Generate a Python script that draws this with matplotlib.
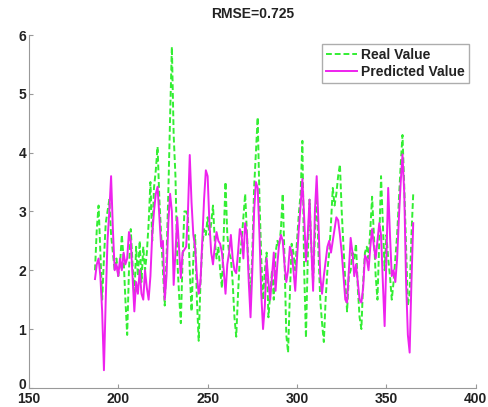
import numpy as np
import matplotlib
matplotlib.use('Agg')
import matplotlib.pyplot as plt
from matplotlib.transforms import ScaledTranslation

# day index shared by both series
days = np.arange(187, 366)

real_value = [
    2.0, 2.7, 3.1, 2.3, 1.5, 2.2, 2.8, 3.0, 3.2, 2.6,
    2.3, 2.0, 2.2, 1.9, 2.1, 2.6, 2.2, 1.5, 0.9, 2.0,
    2.7, 2.1, 1.5, 2.4, 1.9, 2.5, 1.8, 2.4, 2.0, 2.3,
    2.8, 3.5, 2.5, 3.4, 3.7, 4.1, 3.2, 2.6, 2.0, 1.4,
    2.2, 3.3, 4.6, 5.8, 4.3, 3.6, 2.2, 1.6, 1.1, 2.2,
    3.0, 3.0, 2.9, 2.0, 1.3, 2.2, 2.6, 1.5, 0.8, 1.8,
    2.4, 2.7, 2.6, 2.9, 2.6, 2.8, 3.1, 2.5, 2.2, 2.4,
    2.0, 1.7, 2.6, 3.5, 2.6, 2.3, 2.2, 1.8, 1.2, 0.87,
    1.6, 2.2, 2.5, 2.9, 3.3, 2.6, 2.0, 1.5, 2.3, 3.4,
    4.0, 4.6, 3.2, 2.2, 1.5, 2.0, 2.3, 1.2, 1.6, 2.0,
    1.5, 2.3, 2.5, 2.4, 2.7, 3.3, 2.2, 0.9, 0.6, 1.6,
    2.45, 2.3, 2.0, 2.5, 2.95, 3.3, 4.2, 2.0, 0.85, 2.2,
    3.2, 2.4, 1.8, 2.6, 3.4, 2.3, 1.5, 1.1, 0.78, 1.5,
    2.0, 2.3, 2.8, 3.4, 3.1, 3.3, 3.6, 3.8, 3.0, 2.4,
    1.8, 1.3, 1.9, 2.0, 2.3, 2.2, 2.45, 1.7, 1.2, 1.0,
    1.8, 2.3, 2.4, 2.2, 2.7, 3.25, 2.6, 1.9, 1.5, 2.5,
    3.6, 2.8, 2.0, 2.6, 2.2, 1.9, 1.5, 1.8, 2.2, 2.6,
    3.2, 3.8, 4.3, 3.4, 2.4, 1.4, 1.6, 2.6, 3.3,
]

predicted_value = [
    1.85, 2.1, 2.2, 1.9, 1.3, 0.3, 1.5, 2.5, 3.0, 3.6,
    2.7, 2.0, 2.1, 1.9, 2.2, 2.0, 2.3, 2.1, 2.2, 2.65,
    2.5, 1.9, 1.3, 1.8, 1.6, 2.0, 1.6, 1.5, 2.0, 1.7,
    1.5, 1.9, 2.6, 3.0, 3.3, 3.42, 2.9, 2.4, 2.5, 1.5,
    1.9, 2.8, 3.3, 3.0, 1.75, 2.3, 2.9, 2.4, 1.87, 2.3,
    2.35, 2.4, 3.0, 3.96, 3.15, 2.6, 2.4, 1.9, 1.6, 1.8,
    2.5, 3.2, 3.7, 3.6, 2.8, 2.3, 2.1, 2.4, 2.65, 2.5,
    2.45, 2.3, 2.0, 1.6, 2.1, 2.3, 2.6, 2.2, 2.0, 1.95,
    2.3, 2.7, 2.6, 2.2, 2.8, 2.6, 1.8, 1.2, 2.0, 3.0,
    3.5, 3.4, 2.6, 1.6, 1.0, 1.4, 2.2, 1.8, 1.5, 1.9,
    2.3, 1.65, 2.1, 2.45, 2.6, 2.5, 2.1, 1.8, 2.0, 2.4,
    2.3, 2.0, 1.65, 2.2, 2.7, 3.1, 3.55, 2.9, 2.15, 2.6,
    3.2, 2.4, 1.65, 3.0, 3.6, 2.8, 1.9, 1.6, 1.9, 2.15,
    2.4, 2.5, 2.3, 2.5, 2.7, 2.9, 2.85, 2.6, 2.3, 1.9,
    1.5, 1.45, 2.0, 2.55, 2.3, 1.9, 2.1, 1.8, 1.5, 1.45,
    1.7, 2.25, 2.2, 2.0, 2.4, 2.7, 2.4, 2.2, 2.5, 2.8,
    2.6, 1.8, 1.05, 2.2, 3.4, 2.6, 1.9, 2.0, 1.8, 2.2,
    2.9, 3.5, 3.97, 3.3, 1.8, 0.9, 0.6, 1.8, 2.8,
]

rmse_label = 'RMSE=0.725'

plt.rcParams['font.family'] = ['Liberation Sans', 'DejaVu Sans']

fig = plt.figure(figsize=(4.89, 4.07), dpi=100)
ax = fig.add_axes([0.059, 0.047, 0.914, 0.867])

ax.plot(days, real_value, color='#33ee33', linestyle='--', linewidth=1.4,
        dashes=(3, 1.5), label='Real Value')
ax.plot(days, predicted_value, color='#ee22ee', linewidth=1.4,
        label='Predicted Value')

ax.set_xlim(150, 400)
ax.set_ylim(0, 6)
ax.set_xticks([150, 200, 250, 300, 350, 400])
ax.set_yticks([0, 1, 2, 3, 4, 5, 6])

# matlab look: no box, inward ticks
for side in ['top', 'right']:
    ax.spines[side].set_visible(False)
for side in ['left', 'bottom']:
    ax.spines[side].set_color('#999999')
ax.tick_params(direction='in', length=3, color='#999999', labelsize=10,
               labelcolor='#222222', pad=2)
ax.tick_params(axis='x', pad=3)
for lbl in ax.get_xticklabels() + ax.get_yticklabels():
    lbl.set_fontweight('bold')

# lift the y "0" a little so it clears the "150" below it
ylbl0 = ax.get_yticklabels()[0]
ylbl0.set_transform(ylbl0.get_transform() + ScaledTranslation(0, 3 / 72, fig.dpi_scale_trans))

ax.set_title(rmse_label, fontsize=10, fontweight='bold', color='#222222', pad=12)

leg = ax.legend(loc='upper right', fontsize=10, fancybox=False,
                borderpad=0.3, handlelength=2.2, handletextpad=0.3,
                labelspacing=0.2, bbox_to_anchor=(1.0, 0.995))
leg.get_frame().set_edgecolor('#999999')
leg.get_frame().set_linewidth(1.0)
for t in leg.get_texts():
    t.set_fontweight('bold')
    t.set_color('#222222')

fig.savefig('out.png', dpi=100)
